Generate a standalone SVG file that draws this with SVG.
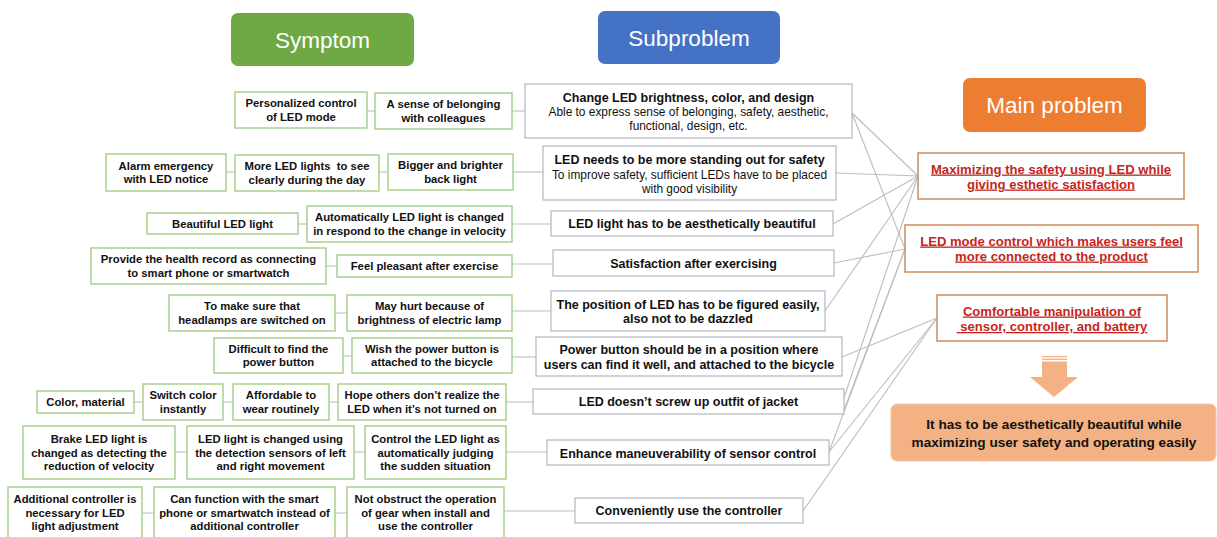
<svg xmlns="http://www.w3.org/2000/svg" width="1217" height="537" viewBox="0 0 1217 537">
<style>
.hdr rect{stroke:none}
.hdr text{font-family:"Liberation Sans",Arial,sans-serif;font-size:22.5px;fill:#fff;text-anchor:middle}
.sym rect{fill:#fff;stroke:#A9D18E;stroke-width:1.5}
.sym text{font-family:"Liberation Sans",Arial,sans-serif;font-size:11.3px;font-weight:bold;fill:#111;text-anchor:middle;white-space:pre}
.sub rect{fill:#fff;stroke:#B8BCC4;stroke-width:1.3}
.sub text{font-family:"Liberation Sans",Arial,sans-serif;font-size:12.5px;font-weight:bold;fill:#111;text-anchor:middle}
.sub text.n{font-weight:normal;font-size:11.9px}
.main rect{fill:#fff;stroke:#CC8A5C;stroke-width:1.5}
.main text{font-family:"Liberation Sans",Arial,sans-serif;font-size:13.1px;font-weight:bold;fill:#C4261D;text-anchor:middle;text-decoration:underline;white-space:pre}
.fin text{font-family:"Liberation Sans",Arial,sans-serif;font-size:13.6px;font-weight:bold;fill:#111;text-anchor:middle}
#connectors line{stroke:#BDBDBD;stroke-width:1.1;fill:none}
</style>

<g id="connectors">
<line x1="367" y1="111" x2="375" y2="111"/><line x1="512" y1="111" x2="525" y2="111"/>
<line x1="226" y1="172" x2="235" y2="172"/><line x1="379" y1="172" x2="388" y2="172"/><line x1="513" y1="172" x2="543" y2="172"/>
<line x1="298" y1="224" x2="307" y2="224"/><line x1="512" y1="224" x2="551" y2="224"/>
<line x1="326" y1="266" x2="337" y2="266"/><line x1="512" y1="264" x2="553" y2="264"/>
<line x1="335" y1="313" x2="347" y2="313"/><line x1="512" y1="311" x2="551" y2="311"/>
<line x1="343" y1="356" x2="352" y2="356"/><line x1="512" y1="357" x2="536" y2="357"/>
<line x1="134" y1="402" x2="143" y2="402"/><line x1="223" y1="402" x2="233" y2="402"/><line x1="329" y1="402" x2="338" y2="402"/><line x1="506" y1="402" x2="533" y2="402"/>
<line x1="175" y1="452" x2="187" y2="452"/><line x1="354" y1="452" x2="365" y2="452"/><line x1="506" y1="452" x2="547" y2="452"/>
<line x1="142" y1="513" x2="154" y2="513"/><line x1="335" y1="513" x2="347" y2="513"/><line x1="504" y1="511" x2="575" y2="511"/>
<line x1="852" y1="113" x2="918" y2="176"/>
<line x1="852" y1="113" x2="905" y2="249"/>
<line x1="836" y1="173" x2="918" y2="176"/>
<line x1="833" y1="224" x2="918" y2="176"/>
<line x1="834" y1="263" x2="905" y2="249"/>
<line x1="825" y1="311" x2="918" y2="176"/>
<line x1="842" y1="357" x2="937" y2="318"/>
<line x1="844" y1="398" x2="918" y2="176"/>
<line x1="844" y1="410" x2="905" y2="249"/>
<line x1="829" y1="452" x2="905" y2="249"/>
<line x1="829" y1="452" x2="937" y2="318"/>
<line x1="803" y1="511" x2="937" y2="318"/>
</g>

<g id="hdr-symptom" class="hdr"><rect x="231" y="13" width="183" height="53" rx="7" fill="#6EA944"/><text x="322.5" y="48">Symptom</text></g>
<g id="hdr-subproblem" class="hdr"><rect x="598" y="11" width="182" height="53" rx="7" fill="#4472C4"/><text x="689" y="46">Subproblem</text></g>
<g id="hdr-main" class="hdr"><rect x="963" y="78" width="183" height="54" rx="7" fill="#ED7D31"/><text x="1054.5" y="113">Main problem</text></g>

<g id="sym1a" class="sym"><rect x="235" y="92" width="132" height="36"/><text x="301" y="107.3">Personalized control</text><text x="301" y="120.8">of LED mode</text></g>
<g id="sym1b" class="sym"><rect x="375" y="93" width="137" height="36"/><text x="443.5" y="108.3">A sense of belonging</text><text x="443.5" y="121.8">with colleagues</text></g>

<g id="sym2a" class="sym"><rect x="106" y="154" width="120" height="37"/><text x="166" y="169.8">Alarm emergency</text><text x="166" y="183.3">with LED notice</text></g>
<g id="sym2b" class="sym"><rect x="235" y="155" width="144" height="36"/><text x="307" y="170.3">More LED lights  to see</text><text x="307" y="183.8">clearly during the day</text></g>
<g id="sym2c" class="sym"><rect x="388" y="154" width="125" height="36"/><text x="450.5" y="169.3">Bigger and brighter</text><text x="450.5" y="182.8">back light</text></g>

<g id="sym3a" class="sym"><rect x="147" y="213" width="151" height="21"/><text x="222.5" y="227.5">Beautiful LED light</text></g>
<g id="sym3b" class="sym"><rect x="307" y="206" width="205" height="36"/><text x="409.5" y="221.3">Automatically LED light is changed</text><text x="409.5" y="234.8">in respond to the change in velocity</text></g>

<g id="sym4a" class="sym"><rect x="91" y="248" width="235" height="36"/><text x="208.5" y="263.3">Provide the health record as connecting</text><text x="208.5" y="276.8">to smart phone or smartwatch</text></g>
<g id="sym4b" class="sym"><rect x="337" y="255" width="175" height="22"/><text x="424.5" y="270">Feel pleasant after exercise</text></g>

<g id="sym5a" class="sym"><rect x="169" y="295" width="166" height="36"/><text x="252" y="310.3">To make sure that</text><text x="252" y="323.8">headlamps are switched on</text></g>
<g id="sym5b" class="sym"><rect x="347" y="295" width="165" height="36"/><text x="429.5" y="310.3">May hurt because of</text><text x="429.5" y="323.8">brightness of electric lamp</text></g>

<g id="sym6a" class="sym"><rect x="214" y="338" width="129" height="35"/><text x="278.5" y="352.8">Difficult to find the</text><text x="278.5" y="366.3">power button</text></g>
<g id="sym6b" class="sym"><rect x="352" y="338" width="160" height="35"/><text x="432" y="352.8">Wish the power button is</text><text x="432" y="366.3">attached to the bicycle</text></g>

<g id="sym7a" class="sym"><rect x="37" y="391" width="97" height="22"/><text x="85.5" y="406">Color, material</text></g>
<g id="sym7b" class="sym"><rect x="143" y="384" width="80" height="36"/><text x="183" y="399.3">Switch color</text><text x="183" y="412.8">instantly</text></g>
<g id="sym7c" class="sym"><rect x="233" y="384" width="96" height="36"/><text x="281" y="399.3">Affordable to</text><text x="281" y="412.8">wear routinely</text></g>
<g id="sym7d" class="sym"><rect x="338" y="384" width="168" height="36"/><text x="422" y="399.3">Hope others don’t realize the</text><text x="422" y="412.8">LED when it’s not turned on</text></g>

<g id="sym8a" class="sym"><rect x="23" y="426" width="152" height="53"/><text x="99" y="443.3">Brake LED light is</text><text x="99" y="456.6">changed as detecting the</text><text x="99" y="469.9">reduction of velocity</text></g>
<g id="sym8b" class="sym"><rect x="187" y="426" width="167" height="53"/><text x="270.5" y="443.3">LED light is changed using</text><text x="270.5" y="456.6">the detection sensors of left</text><text x="270.5" y="469.9">and right movement</text></g>
<g id="sym8c" class="sym"><rect x="365" y="426" width="141" height="53"/><text x="435.5" y="443.3">Control the LED light as</text><text x="435.5" y="456.6">automatically judging</text><text x="435.5" y="469.9">the sudden situation</text></g>

<g id="sym9a" class="sym"><rect x="8" y="487" width="134" height="56"/><text x="75" y="503">Additional controller is</text><text x="75" y="516.6">necessary for LED</text><text x="75" y="530.2">light adjustment</text></g>
<g id="sym9b" class="sym"><rect x="154" y="487" width="181" height="56"/><text x="244.5" y="503">Can function with the smart</text><text x="244.5" y="516.6">phone or smartwatch instead of</text><text x="244.5" y="530.2">additional controller</text></g>
<g id="sym9c" class="sym"><rect x="347" y="487" width="157" height="56"/><text x="425.5" y="503">Not obstruct the operation</text><text x="425.5" y="516.6">of gear when install and</text><text x="425.5" y="530.2">use the controller</text></g>

<g id="sub1" class="sub"><rect x="525" y="84" width="327" height="54"/><text x="688.5" y="101.5">Change LED brightness, color, and design</text><text class="n" x="688.5" y="115.5">Able to express sense of belonging, safety, aesthetic,</text><text class="n" x="688.5" y="130">functional, design, etc.</text></g>
<g id="sub2" class="sub"><rect x="543" y="146" width="293" height="54"/><text x="689.5" y="164">LED needs to be more standing out for safety</text><text class="n" x="689.5" y="178.5">To improve safety, sufficient LEDs have to be placed</text><text class="n" x="689.5" y="192.5">with good visibility</text></g>
<g id="sub3" class="sub"><rect x="551" y="211" width="282" height="25"/><text x="692" y="228">LED light has to be aesthetically beautiful</text></g>
<g id="sub4" class="sub"><rect x="553" y="250" width="281" height="26"/><text x="693.5" y="268">Satisfaction after exercising</text></g>
<g id="sub5" class="sub"><rect x="551" y="291" width="274" height="40"/><text x="688" y="308.5">The position of LED has to be figured easily,</text><text x="688" y="323">also not to be dazzled</text></g>
<g id="sub6" class="sub"><rect x="536" y="337" width="306" height="39"/><text x="689" y="354">Power button should be in a position where</text><text x="689" y="368.5">users can find it well, and attached to the bicycle</text></g>
<g id="sub7" class="sub"><rect x="533" y="389" width="311" height="25"/><text x="688.5" y="406">LED doesn’t screw up outfit of jacket</text></g>
<g id="sub8" class="sub"><rect x="547" y="440" width="282" height="25"/><text x="688" y="458">Enhance maneuverability of sensor control</text></g>
<g id="sub9" class="sub"><rect x="575" y="498" width="228" height="25"/><text x="689" y="515">Conveniently use the controller</text></g>

<g id="main1" class="main"><rect x="918" y="153" width="266" height="46"/><text x="1051" y="173.5">Maximizing the safety using LED while</text><text x="1051" y="188.5">giving esthetic satisfaction</text></g>
<g id="main2" class="main"><rect x="905" y="225" width="293" height="47"/><text x="1051.5" y="245.5">LED mode control which makes users feel</text><text x="1051.5" y="260.5">more connected to the product</text></g>
<g id="main3" class="main"><rect x="937" y="295" width="230" height="46"/><text x="1052" y="315.5">Comfortable manipulation of</text><text x="1052" y="331"> sensor, controller, and battery</text></g>

<g id="arrow" fill="#F4B183">
<rect x="1042" y="356" width="25" height="1.2"/>
<rect x="1042" y="358.6" width="25" height="1.4"/>
<path d="M1042 361.5 H1067 V377 H1078 L1054 397 L1030 377 H1042 Z"/>
</g>

<g id="final" class="fin"><rect x="891" y="404" width="325" height="57" rx="6" fill="#F4B183" stroke="#F0C8A8" stroke-width="1"/><text x="1054" y="429">It has to be aesthetically beautiful while</text><text x="1054" y="446.5">maximizing user safety and operating easily</text></g>
</svg>
